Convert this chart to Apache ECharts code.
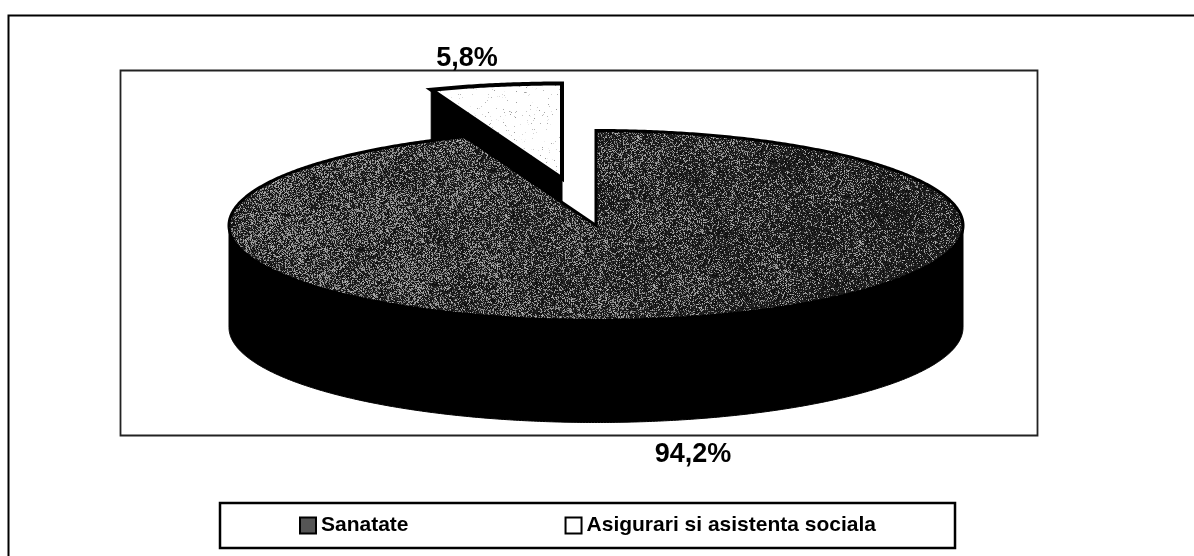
<!DOCTYPE html>
<html>
<head>
<meta charset="utf-8">
<style>
  html, body { margin: 0; padding: 0; background: #fff; }
  #chart { width: 1194px; height: 556px; }
</style>
<script src="https://cdn.jsdelivr.net/npm/echarts@6/dist/echarts.min.js"></script>
</head>
<body>
<div id="chart"></div>
<script>
var categories = ['Sanatate', 'Asigurari si asistenta sociala']
var sliceValues = [94.2, 5.8]
var sliceLabels = ['94,2%', '5,8%']

var total = sliceValues[0] + sliceValues[1]
var cx = 596, cy = 225.5, rx = 367, ry = 95, depth = 102
// the small slice is pulled out up and to the left
var pullX = -34, pullY = -47
var fontName = '"Liberation Sans", Arial, sans-serif'

// scanned halftone look, dots get thinner to the right
function speckle(w, h, dotFn) {
    var c = document.createElement('canvas')
    c.width = w
    c.height = h
    var ctx = c.getContext('2d')
    var img = ctx.createImageData(w, h)
    var seed = 12345
    for (var y = 0; y < h; y++) {
        for (var x = 0; x < w; x++) {
            seed = (seed * 1103515245 + 12345) & 0x7fffffff
            var r = (seed >> 8) % 1000 / 1000
            var v = dotFn(x, y, r, (seed >> 18) % 100)
            var i = (y * w + x) * 4
            img.data[i] = img.data[i + 1] = img.data[i + 2] = v
            img.data[i + 3] = 255
        }
    }
    ctx.putImageData(img, 0, 0)
    return c
}

var darkFill = {
    image: speckle(1194, 556, function (x, y, r, n) {
        var p = 0.44 - 0.26 * Math.max(0, Math.min(1, (x - 228) / 736))
        // blotches like the scan has
        p += 0.08 * Math.sin(x / 23 + y / 31) * Math.cos(y / 17 - x / 41)
        return r < p ? 95 + n * 0.9 : 10 + n / 3
    }),
    repeat: 'repeat'
}
var lightFill = {
    image: speckle(1194, 556, function (x, y, r, n) {
        return r < 0.03 ? 150 + n : 255
    }),
    repeat: 'repeat'
}

function arcPoints(from, to, ox, oy) {
    var pts = []
    var steps = Math.max(8, Math.ceil(Math.abs(to - from) * 120))
    for (var i = 0; i <= steps; i++) {
        var a = from + (to - from) * i / steps
        pts.push([cx + ox + rx * Math.sin(a), cy + oy - ry * Math.cos(a)])
    }
    return pts
}

function renderMain(params, api) {
    var end = api.value(0) / total * Math.PI * 2
    // outer wall, front half of the drum
    var front = arcPoints(Math.PI / 2, Math.PI * 1.5, 0, 0)
    var wall = front.concat(arcPoints(Math.PI * 1.5, Math.PI / 2, 0, depth))
    var top = [[cx, cy]].concat(arcPoints(0, end, 0, 0))
    return {
        type: 'group',
        children: [
            { type: 'polygon', shape: { points: wall }, style: { fill: '#000', stroke: '#000', lineWidth: 1 } },
            { type: 'polygon', shape: { points: top }, style: { fill: darkFill, stroke: '#000', lineWidth: 3, lineJoin: 'miter' } },
            { type: 'text', style: { text: sliceLabels[0], x: 693, y: 455, align: 'center', verticalAlign: 'middle', font: 'bold 27px ' + fontName, fill: '#000' } }
        ]
    }
}

function renderPulled(params, api) {
    var start = sliceValues[0] / total * Math.PI * 2
    var end = start + api.value(0) / total * Math.PI * 2
    var ax = cx + pullX, ay = cy + pullY
    var edge = arcPoints(start, start, pullX, pullY)[0]
    var wall = [[ax, ay], edge, [edge[0], edge[1] + depth], [ax, ay + depth]]
    var top = [[ax, ay]].concat(arcPoints(start, end, pullX, pullY))
    return {
        type: 'group',
        children: [
            { type: 'polygon', shape: { points: wall }, style: { fill: '#000', stroke: '#000', lineWidth: 1 } },
            { type: 'polygon', shape: { points: top }, style: { fill: lightFill, stroke: '#000', lineWidth: 4, lineJoin: 'miter' } },
            { type: 'text', style: { text: sliceLabels[1], x: 467, y: 59, align: 'center', verticalAlign: 'middle', font: 'bold 27px ' + fontName, fill: '#000' } }
        ]
    }
}

var chart = echarts.init(document.getElementById('chart'), null, { renderer: 'canvas' })

chart.setOption({
    backgroundColor: '#fff',
    animation: false,
    graphic: [
        // outer frame, only top and left made it into the scan
        { type: 'polyline', silent: true, shape: { points: [[8.5, 556], [8.5, 15.5], [1194, 15.5]] }, style: { fill: null, stroke: '#000', lineWidth: 2 } },
        { type: 'rect', silent: true, shape: { x: 120.5, y: 70.5, width: 917, height: 365 }, style: { fill: null, stroke: '#222', lineWidth: 1.8 } }
    ],
    legend: {
        left: 220,
        top: 503,
        orient: 'horizontal',
        padding: [12, 79],
        itemGap: 156,
        itemWidth: 16,
        itemHeight: 16,
        borderColor: '#000',
        borderWidth: 2.5,
        borderRadius: 0,
        selectedMode: false,
        textStyle: { fontFamily: fontName, fontWeight: 'bold', fontSize: 21, color: '#000' },
        data: [
            { name: categories[0], icon: 'rect', itemStyle: { color: '#555', borderColor: '#000', borderWidth: 2 } },
            { name: categories[1], icon: 'rect', itemStyle: { color: '#fff', borderColor: '#000', borderWidth: 2 } }
        ]
    },
    series: [
        { type: 'custom', name: categories[1], coordinateSystem: 'none', z: 2, silent: true, renderItem: renderPulled, data: [[sliceValues[1]]], itemStyle: { color: '#fff' } },
        { type: 'custom', name: categories[0], coordinateSystem: 'none', z: 3, silent: true, renderItem: renderMain, data: [[sliceValues[0]]], itemStyle: { color: '#555' } }
    ]
})
</script>
</body>
</html>
